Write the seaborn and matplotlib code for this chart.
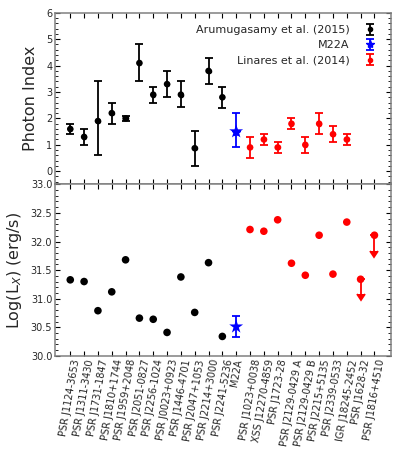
import numpy as np
import pandas as pd
import matplotlib
matplotlib.use("Agg")
import matplotlib.pyplot as plt
from matplotlib.ticker import MultipleLocator, FormatStrFormatter
import seaborn as sns

# ---------------- data ----------------
aru_names = ["PSR J1124-3653", "PSR J1311-3430", "PSR J1731-1847", "PSR J1810+1744",
             "PSR J1959+2048", "PSR J2051-0827", "PSR J2256-1024", "PSR J0023+0923",
             "PSR J1446-4701", "PSR J2047+1053", "PSR J2214+3000", "PSR J2241-5236"]
m22_names = ["M22A"]
lin_names = ["PSR J1023+0038", "XSS J12270-4859", "PSR J1723-28", "PSR J2129-0429 A",
             "PSR J2129-0429 B", "PSR J2215+5135", "PSR J2339-0533", "IGR J18245-2452",
             "PSR J1628-32", "PSR J1816+4510"]

aru_gamma = [1.6, 1.3, 1.9, 2.2, 2.0, 4.1, 2.9, 3.3, 2.9, 0.87, 3.8, 2.8]
aru_gamma_lo = [0.2, 0.3, 1.3, 0.4, 0.1, 0.7, 0.3, 0.5, 0.45, 0.68, 0.5, 0.4]
aru_gamma_hi = [0.2, 0.3, 1.5, 0.4, 0.1, 0.7, 0.3, 0.5, 0.5, 0.67, 0.5, 0.4]
aru_logl = [31.33, 31.30, 30.79, 31.12, 31.68, 30.66, 30.64, 30.41, 31.38, 30.76, 31.63, 30.34]

m22_gamma = [1.5]
m22_gamma_lo = [0.6]
m22_gamma_hi = [0.7]
m22_logl = [30.51]
m22_logl_err = [0.18]

# photon index only for the first 8 Linares sources
lin_gamma = [0.9, 1.2, 0.9, 1.8, 1.0, 1.8, 1.4, 1.2]
lin_gamma_err = [0.4, 0.2, 0.2, 0.2, 0.3, 0.4, 0.3, 0.2]
lin_logl = [32.21, 32.18, 32.38, 31.62, 31.41, 32.11, 31.43, 32.34, 31.34, 32.11]
lin_upper = [False, False, False, False, False, False, False, False, True, True]
lin_arrow = [0.25, 0.28]

names = aru_names + m22_names + lin_names
# ---------------------------------------

sns.set_style("ticks")
plt.rcParams['font.family'] = ['DejaVu Sans']
plt.rcParams['axes.edgecolor'] = '#808080'
plt.rcParams['axes.linewidth'] = 1.1

fig = plt.figure(figsize=(3.99, 4.58), dpi=100)
gs = fig.add_gridspec(2, 1, left=0.138, right=0.98, top=0.972, bottom=0.223, hspace=0)
ax1 = fig.add_subplot(gs[0])
ax2 = fig.add_subplot(gs[1], sharex=ax1)

xa = np.arange(len(aru_names))
xm = np.arange(len(aru_names), len(aru_names) + 1)
xl = np.arange(len(aru_names) + 1, len(names))

ebkw = dict(capsize=3, elinewidth=1.3, capthick=1.3)

# ---- top panel ----
h1 = ax1.errorbar(xa, aru_gamma, yerr=[aru_gamma_lo, aru_gamma_hi], fmt='o', color='k',
                  ms=3, label='Arumugasamy et al. (2015)', **ebkw)
h2 = ax1.errorbar(xm, m22_gamma, yerr=[m22_gamma_lo, m22_gamma_hi], fmt='*', color='blue',
                  ms=6, label='M22A', **ebkw)
xl8 = xl[:len(lin_gamma)]
h3 = ax1.errorbar(xl8, lin_gamma, yerr=lin_gamma_err, fmt='o', color='red',
                  ms=3, label='Linares et al. (2014)', **ebkw)
sns.scatterplot(x=xa, y=aru_gamma, ax=ax1, color='k', s=22, edgecolor='none', legend=False, zorder=4)
sns.scatterplot(x=xm, y=m22_gamma, ax=ax1, color='blue', marker='*', s=110, edgecolor='none', legend=False, zorder=4)
sns.scatterplot(x=xl8, y=lin_gamma, ax=ax1, color='red', s=22, edgecolor='none', legend=False, zorder=4)

ax1.set_ylim(-0.5, 6)
ax1.yaxis.set_major_locator(MultipleLocator(1))
ax1.yaxis.set_minor_locator(MultipleLocator(0.2))
ax1.set_ylabel('Photon Index', fontsize=11.5, labelpad=6)
leg = ax1.legend(handles=[h1, h2, h3], loc='upper right', frameon=False, markerfirst=False,
                 fontsize=8, handlelength=1.2, handletextpad=1.3, borderaxespad=0.55,
                 labelspacing=0.47, bbox_to_anchor=(0.99, 0.99))
plt.setp(ax1.get_xticklabels(), visible=False)

# ---- bottom panel ----
sns.scatterplot(x=xa, y=aru_logl, ax=ax2, color='k', s=30, edgecolor='none', legend=False, zorder=4)
ax2.errorbar(xm, m22_logl, yerr=m22_logl_err, fmt='none', color='blue', **ebkw)
sns.scatterplot(x=xm, y=m22_logl, ax=ax2, color='blue', marker='*', s=110, edgecolor='none', legend=False, zorder=4)
sns.scatterplot(x=xl, y=lin_logl, ax=ax2, color='red', s=30, edgecolor='none', legend=False, zorder=4)
up_x = [x for x, u in zip(xl, lin_upper) if u]
up_y = [y for y, u in zip(lin_logl, lin_upper) if u]
ax2.errorbar(up_x, up_y, yerr=lin_arrow, uplims=True, fmt='none', color='red',
             capsize=3, elinewidth=1.3, capthick=1.3)

ax2.set_ylim(30.0, 33.0)
ax2.yaxis.set_major_locator(MultipleLocator(0.5))
ax2.yaxis.set_minor_locator(MultipleLocator(0.1))
ax2.yaxis.set_major_formatter(FormatStrFormatter('%.1f'))
ax2.set_ylabel(r'Log(L$_X$) (erg/s)', fontsize=11.5, labelpad=5)

ax2.set_xlim(-1.1, 23.2)
ax2.set_xticks(np.arange(len(names)))
ax2.set_xticklabels(names, rotation=80, fontsize=7)

for ax in (ax1, ax2):
    ax.tick_params(which='both', direction='in', top=True, right=True, color='k')
    ax.tick_params(which='major', length=3.5, width=0.8, labelsize=7, pad=2)
    ax.tick_params(which='minor', length=2, width=0.6)
    ax.tick_params(axis='x', which='minor', bottom=False, top=False)
ax2.tick_params(axis='x', labelsize=7)

fig.savefig('out.png', dpi=100)
